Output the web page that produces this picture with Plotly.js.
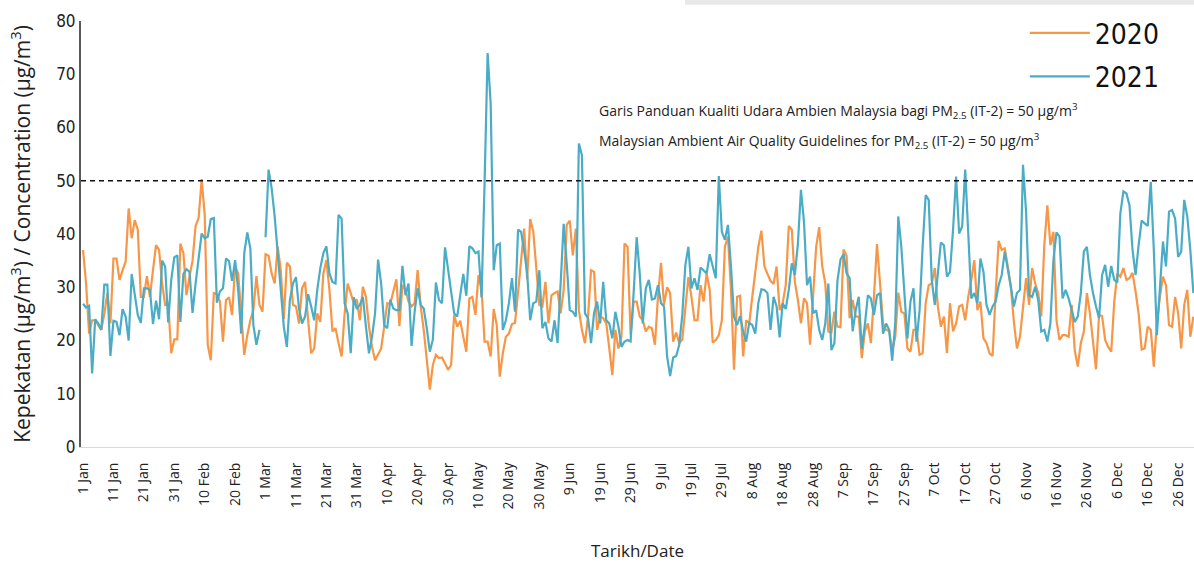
<!DOCTYPE html>
<html>
<head>
<meta charset="utf-8">
<script src="https://cdn.plot.ly/plotly-3.0.1.min.js"></script>
<style>
html,body{margin:0;padding:0;background:#fff;}
#chart{width:1194px;height:563px;}
</style>
</head>
<body>
<div id="chart"></div>
<script>
// Daily PM2.5 concentration (µg/m³), leap-year calendar axis (1 Jan .. 31 Dec)
const pm2020 = [
37,30.7,21.3,23.8,23.8,22.9,22,25,28.9,23.2,
35.4,35.4,31.4,33.2,34.8,44.8,39.2,42.6,40.8,28.2,
28.2,32.1,28.2,33.2,37.9,37,30.7,26.7,27,17.6,
20.2,20.2,38.2,36.4,28.5,32,35,41.5,43,50.3,
43.6,19.2,16.3,28.9,28.7,27.3,19.8,27.6,28.1,24.8,
33.9,32.6,25.1,17.3,21,23.8,25.7,32.1,26.7,25.4,
36.2,35.9,32.6,30.7,37.6,33.2,24,34.6,33.9,26.7,
26.4,23.2,29.8,31,23.8,17.6,18.5,25.1,23.5,32.6,
35.1,29.5,21.7,22.3,19.5,17,25.1,30.7,28.9,27,
27.7,23.8,30.1,28.2,22.6,18.8,16.3,17.3,18.5,22.6,
27,26.9,29.5,31.5,22.7,30.4,29.5,27.3,26.4,27,
33.2,26.4,22,16.3,10.8,15.4,17.3,16.7,16.8,15.7,
14.5,15.4,24.8,22.6,23.7,20.7,17.9,27.9,28.2,24.8,
32.3,29.8,19.8,19.8,17,25.9,22.9,13.2,17.6,20.7,
21.3,23.1,23.3,29,35,41,31.5,42.8,40.5,33.2,
26.7,26.4,31,23.2,28.5,28.9,29.2,25.1,29.5,41.7,
42.5,36,41,25.7,22,19.5,24.5,33.2,32.9,22,
24.5,24.2,23.2,18.5,13.5,22,18.5,20.7,38.2,37.6,
21,27.3,27.3,24.5,23.8,21.7,22.6,22.3,19.2,28.2,
34.6,26.7,30,28.9,19.8,21.5,19.5,20.2,26.4,31.9,
28.2,23.8,23.8,30.4,27.3,32.6,29.5,19.6,20.1,21,
23.8,37.6,39.5,29.5,14.5,28.2,28.4,17,23.8,23.2,
28.2,32.6,37.6,40.6,33.9,32.5,31.2,30.6,33.9,25.7,
27,30.4,41.5,40.8,31,27.6,23.2,27.9,27,19.2,
28.9,37.6,41.3,33.9,30.7,21.7,21.5,25.4,22.6,22.5,
37.1,35.9,24.2,27.6,24.5,24.5,16.7,21.7,23.2,19.5,
28.2,38.1,30.7,23.2,22,21.8,18.2,20.7,29,25.4,
25.1,18.5,17.9,22,22,17.3,17.6,27,30.4,30.7,
33.6,26.4,22.6,24.5,17.6,27,21.7,23.2,26.4,26.7,
23.8,28.2,31.4,35.1,25.7,27.3,20.4,19.5,17.6,17.1,
28.9,38.7,37,37.3,33.9,30.1,23.5,18.5,20.7,26.4,
31.7,26.7,33.6,30.7,28.9,24.5,37.9,45.4,37.9,40.4,
23.8,20.1,21,21,20.7,26.7,18.2,15.1,19.5,21.7,
28.9,25.1,19.5,14.6,24.8,24.6,20.1,18.8,17.9,27.3,
32.6,32,33.6,31.4,31.7,32.7,29.2,25.1,18.3,18.5,
22.6,22,15.1,23.2,28.2,32,30.4,22.9,22.6,28.2,
25.1,18.5,26.7,29.5,20.7,24.5
];
const pm2021 = [
26.9,26.2,26.5,13.8,24,23.2,22,30.5,30.5,17.1,
23.7,23.5,21,25.9,24.5,20,32.5,28.9,24.8,23.3,
29.8,29.8,29.5,23.1,27.5,24,35,33.9,23.4,31.4,
35.6,36,23.5,32.5,33.4,32.9,25.2,30.7,35.1,40.1,
39.2,39.5,42.8,43,27.1,29.2,29.8,35.4,34.9,31.2,
35.1,29.5,21.3,36.4,40.3,37.3,22.9,19.2,22,null,
39.4,52.1,48.6,43.3,36.4,28.9,22.6,18.8,27.6,30.7,
31.9,26,23.2,24.5,28.7,26.4,23.8,29.5,33.6,36.4,
37.7,32.6,31,30.7,43.6,42.9,27,25.1,17.6,28.1,
25.9,26.7,28.2,22.6,17.6,20.7,25.1,35.2,30.7,22.9,
22.3,27.7,26,25.7,25.7,34,28.5,30.7,19,25.4,
29.8,26.7,26,22.3,17.9,20.2,30.9,27.6,27,37.5,
33.2,29.2,25.1,24.5,28.7,32.5,28.4,37.7,37.3,36.4,
36.7,28.1,49.5,74,64.5,33.2,37.9,38.2,22,23.8,
27,31.7,25.4,40.8,40.4,37,32.6,23.8,27,27.3,
33.2,22.3,23.5,20.4,19.8,23.8,19.5,30.1,41.9,34.5,
25.7,25.4,24.5,57,54.8,25.1,24.2,19.5,25.2,27.3,
23.2,31,23.8,23.2,20.4,25.4,22.6,18.8,19.8,20.1,
19.8,28.9,39.4,32.6,23.2,29.8,31.4,27.7,27.9,30.4,
27,26.4,17,13.3,16.8,17.1,19.2,24.8,34.2,37.6,
29.8,31.7,29.5,33.7,33.2,32.6,36.2,34.2,31.7,50.9,
40.4,38.9,41.7,33.9,24.5,22.9,24.6,21.7,19.8,23.3,
22.9,21.3,27.1,29.6,29.5,28.9,22,28.2,26.4,20.6,
27,25.9,29.5,34.5,32.3,38.2,48.3,42.3,30.4,32,
25.1,25.7,22,20.1,23.2,30.7,18.2,19.5,31.2,35.2,
36.2,32.6,31.7,21.7,25.7,28.2,18.5,22.9,28.5,27.9,
24.8,28.5,28.9,21.3,23.2,22,16.2,23.2,43.3,37.6,
29.5,20.4,27.3,29.8,19.8,25.7,37.6,47.3,46.4,31.4,
26.7,32.3,38.4,37.9,32,32.9,40.8,50.8,40.1,41.4,
52.1,40.1,27.9,28.9,27,35.4,32.9,26.7,24.8,26.4,
27.3,30.4,32.3,36.7,33.6,30.1,26.4,28.9,29.5,53,
44.2,28.5,28.2,30.1,27.6,21.7,22,19.8,23.2,35.1,
40.3,39.5,27.9,29.5,27.9,25.7,23.5,24.5,28.9,36.7,
37.6,32.3,28.9,26.4,24.2,32.3,34.2,30.1,34,31.4,
30.9,43.9,48,47.6,45.4,37,32.3,37.9,42.5,42,
41.5,49.8,37,21,30.7,38.6,33.9,44.2,44.5,42.9,
35.7,36.7,46.4,43.3,37,28.9
];
const seriesNames = ['2020', '2021'];
const guidelineValue = 50;
const guidelineTextMs = 'Garis Panduan Kualiti Udara Ambien Malaysia bagi PM<sub>2.5</sub> (IT-2) = 50 µg/m<sup>3</sup>';
const guidelineTextEn = 'Malaysian Ambient Air Quality Guidelines for PM<sub>2.5</sub> (IT-2) = 50 µg/m<sup>3</sup>';
const xTitle = 'Tarikh/Date';
const yTitle = 'Kepekatan (µg/m<sup>3</sup>) / Concentration (µg/m<sup>3</sup>)';

// calendar days of a leap year (the axis shows 1 Mar ten days after 20 Feb)
const days = [];
for (let i = 0; i < pm2020.length; i++) {
  days.push(new Date(Date.UTC(2020, 0, 1 + i)).toISOString().slice(0, 10));
}

const condensed = '"Liberation Sans Narrow", "DejaVu Sans Condensed", Roboto, sans-serif';
const regular = '"Open Sans", Roboto, sans-serif';

const traces = [
  {x: days, y: pm2020, name: seriesNames[0], type: 'scatter', mode: 'lines',
   line: {color: '#F79646', width: 2.2}, legendgroup: 'a', connectgaps: false},
  {x: days, y: pm2021, name: seriesNames[1], type: 'scatter', mode: 'lines',
   line: {color: '#4BACC6', width: 2.2}, legendgroup: 'b', connectgaps: false}
];

const layout = {
  width: 1194, height: 563,
  margin: {l: 81, r: 0, t: 21, b: 116},
  paper_bgcolor: '#fff', plot_bgcolor: '#fff',
  showlegend: true,
  legend: {x: 0.848, y: 1.03, xanchor: 'left', yanchor: 'top',
    font: {family: condensed, size: 28, color: '#111'},
    itemwidth: 60, tracegroupgap: 4, bgcolor: 'rgba(0,0,0,0)'},
  xaxis: {
    type: 'date',
    range: ['2019-12-31 08:00', '2020-12-31 05:00'],
    tick0: '2020-01-01', dtick: 864000000,
    tickformat: '%-d %b', tickangle: -90,
    tickfont: {family: regular, size: 14, color: '#222'},
    ticklabelstandoff: 9,
    showgrid: false, zeroline: false,
    showline: true, linecolor: '#d9d9d9', linewidth: 1,
    ticks: '',
    title: {text: xTitle, font: {family: regular, size: 17, color: '#222'}, standoff: 36},
    automargin: true
  },
  yaxis: {
    range: [0, 80], dtick: 10,
    tickfont: {family: condensed, size: 17, color: '#222'},
    showgrid: false, zeroline: false,
    showline: true, linecolor: '#595959', linewidth: 2,
    ticks: '',
    title: {text: yTitle, font: {family: regular, size: 21, color: '#222'}, standoff: 20},
    automargin: true
  },
  shapes: [
    {type: 'line', xref: 'paper', x0: 0, x1: 1, yref: 'y', y0: guidelineValue, y1: guidelineValue,
     line: {color: '#111', width: 1.3, dash: '5px,4px'}},
    {type: 'rect', xref: 'paper', x0: 0.5427, x1: 1, yref: 'paper', y0: 1.038, y1: 1.05,
     fillcolor: '#e8e8e8', line: {width: 0}}
  ],
  annotations: [
    {xref: 'paper', x: 0.4636, xanchor: 'left', yref: 'y', y: 63.1, yanchor: 'middle',
     text: guidelineTextMs, showarrow: false, font: {family: regular, size: 14, color: '#222'}},
    {xref: 'paper', x: 0.4636, xanchor: 'left', yref: 'y', y: 57.5, yanchor: 'middle',
     text: guidelineTextEn, showarrow: false, font: {family: regular, size: 14, color: '#222'}}
  ]
};

Plotly.newPlot('chart', traces, layout, {displayModeBar: false, staticPlot: true});
</script>
</body>
</html>
